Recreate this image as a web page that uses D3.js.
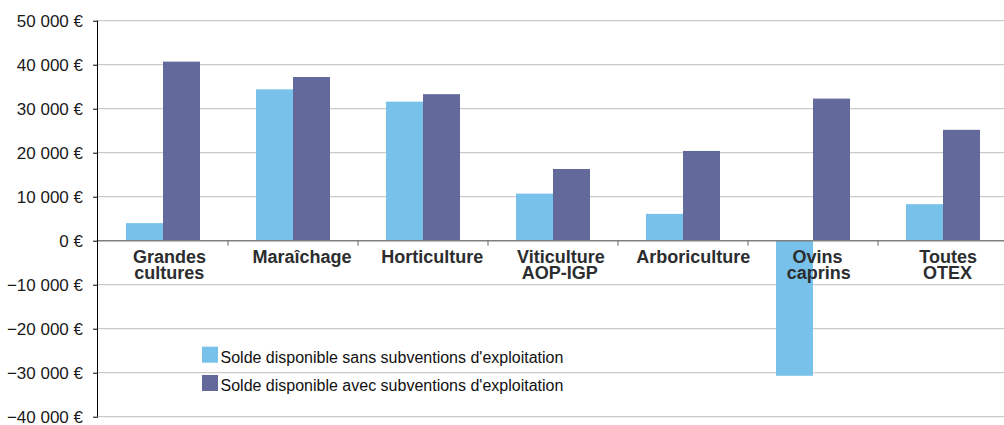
<!DOCTYPE html>
<html lang="fr">
<head>
<meta charset="utf-8">
<script src="https://cdn.jsdelivr.net/npm/d3@7/dist/d3.min.js"></script>
<style>
  html, body { margin: 0; padding: 0; background: #fff; }
  svg { display: block; font-family: "Liberation Sans", Arial, sans-serif; }
</style>
</head>
<body>
<svg id="chart" width="1004" height="425"></svg>
<script>
// Types d'exploitation (OTEX) — les retours à la ligne sont marqués par "\n"
const categories = [
  "Grandes\ncultures",
  "Maraîchage",
  "Horticulture",
  "Viticulture\nAOP-IGP",
  "Arboriculture",
  "Ovins\ncaprins",
  "Toutes\nOTEX"
];
const seriesNames = [
  "Solde disponible sans subventions d'exploitation",
  "Solde disponible avec subventions d'exploitation"
];
// Solde disponible par exploitation, en euros
const sansSubventions = [4000, 34400, 31600, 10700, 6100, -30700, 8300];
const avecSubventions = [40700, 37200, 33300, 16300, 20400, 32300, 25200];
const yTicks = [-40000, -30000, -20000, -10000, 0, 10000, 20000, 30000, 40000, 50000];
const colors = ["#78c1ea", "#63699b"];

const svg = d3.select("#chart");
const plotLeft = 98, plotRight = 1008, plotTop = 20.7, plotBottom = 416.7;

const y = d3.scaleLinear().domain([-40000, 50000]).range([plotBottom, plotTop]);
const x = d3.scaleBand().domain(categories).range([plotLeft, plotRight]).padding(0);
const xSub = d3.scaleBand().domain(seriesNames).range([0, x.bandwidth()])
  .paddingInner(0).paddingOuter(28 / 37);

const fmt = v => d3.format(",")(v).replace(/,/g, " ") + " €";

// Lignes de grille horizontales
svg.append("g")
  .selectAll("line")
  .data(yTicks.filter(d => d !== 0))
  .join("line")
  .attr("x1", plotLeft).attr("x2", 1004)
  .attr("y1", d => y(d)).attr("y2", d => y(d))
  .attr("stroke", "#cbcbcb").attr("stroke-width", 1.3);

// Axe vertical
const yAxis = d3.axisLeft(y).tickValues(yTicks).tickSize(5).tickPadding(10).tickFormat(fmt);
const gy = svg.append("g").attr("transform", `translate(${plotLeft},0)`).call(yAxis);
gy.select(".domain").attr("stroke", "#000").attr("d", `M-0.5,${plotTop}V${plotBottom}`);
gy.selectAll(".tick line").attr("stroke", "#000");
gy.selectAll(".tick text")
  .attr("fill", "#1a1a1a")
  .style("font-size", "17px");

// Barres
const rows = categories.map((c, i) => ({ cat: c, values: [sansSubventions[i], avecSubventions[i]] }));
svg.append("g")
  .selectAll("g")
  .data(rows)
  .join("g")
  .attr("transform", d => `translate(${x(d.cat)},0)`)
  .selectAll("rect")
  .data(d => d.values.map((v, k) => ({ key: seriesNames[k], v, k })))
  .join("rect")
  .attr("x", d => xSub(d.key))
  .attr("width", xSub.bandwidth())
  .attr("y", d => y(Math.max(0, d.v)))
  .attr("height", d => Math.abs(y(d.v) - y(0)))
  .attr("fill", d => colors[d.k]);

// Ligne du zéro et graduations des catégories
svg.append("line")
  .attr("x1", plotLeft).attr("x2", 1004)
  .attr("y1", y(0)).attr("y2", y(0))
  .attr("stroke", "#7f7f7f").attr("stroke-width", 1.6);
svg.append("g")
  .selectAll("line")
  .data(categories.slice(1))
  .join("line")
  .attr("x1", d => x(d)).attr("x2", d => x(d))
  .attr("y1", y(0)).attr("y2", y(0) + 5)
  .attr("stroke", "#666").attr("stroke-width", 1);

// Libellés des catégories (légèrement décalés vers la droite, proportionnellement à leur largeur)
const labels = svg.append("g")
  .selectAll("text")
  .data(categories)
  .join("text")
  .attr("text-anchor", "middle")
  .attr("fill", "#2b2d2f")
  .style("font-size", "18px")
  .style("font-weight", "bold")
  .attr("transform", d => `translate(${x(d) + x.bandwidth() / 2},0)`);
labels.selectAll("tspan")
  .data(d => d.split("\n"))
  .join("tspan")
  .attr("y", (d, i) => y(0) + 22 + i * 16.3)
  .text(d => d)
  .attr("x", function () { return 0.09 * this.getComputedTextLength(); });

// Légende
const legend = svg.append("g").attr("transform", "translate(202,346.7)");
const items = legend.selectAll("g")
  .data(seriesNames)
  .join("g")
  .attr("transform", (d, i) => `translate(0,${i * 28.3})`);
items.append("rect")
  .attr("width", 16).attr("height", 16)
  .attr("fill", (d, i) => colors[i]);
items.append("text")
  .attr("x", 18.5).attr("y", 16)
  .attr("fill", "#111")
  .style("font-size", "16px")
  .text(d => d);
</script>
</body>
</html>
